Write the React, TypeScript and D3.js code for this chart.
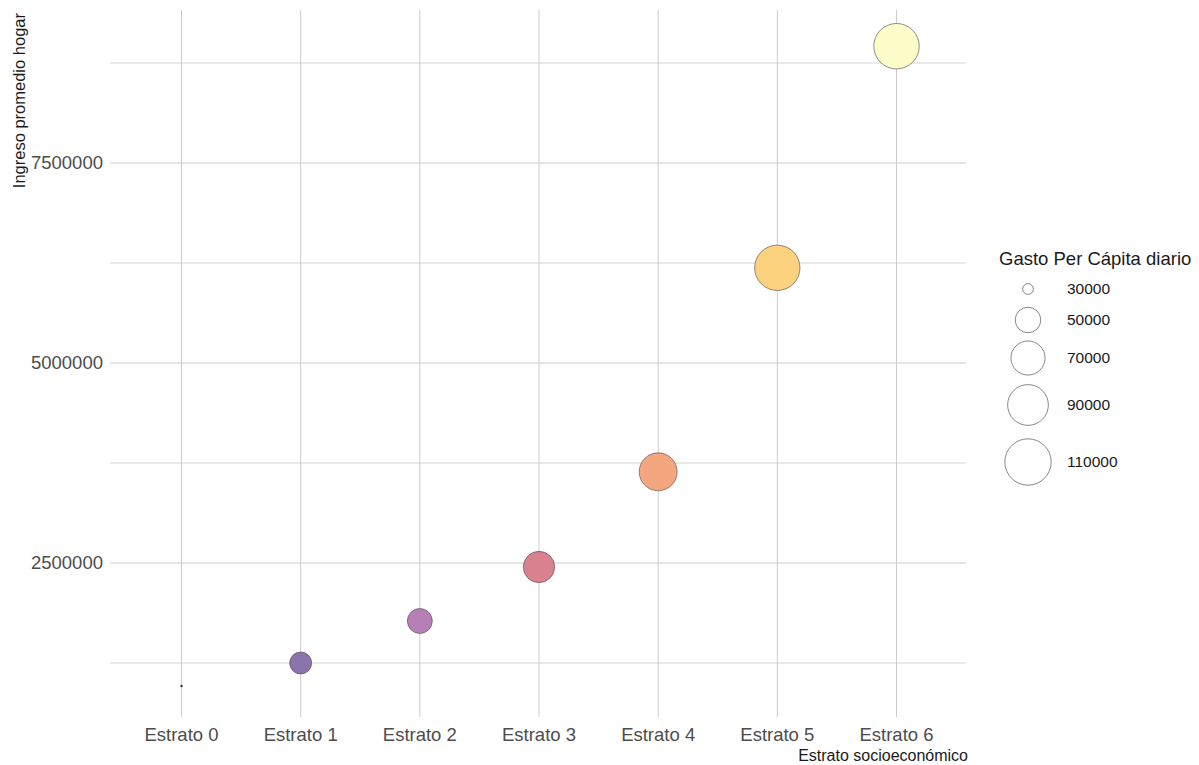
import React from "react";
import * as d3 from "d3";

const estratos = ["Estrato 0", "Estrato 1", "Estrato 2", "Estrato 3", "Estrato 4", "Estrato 5", "Estrato 6"];
const ingreso = [962000, 1250000, 1775000, 2450000, 3640000, 6190000, 8960000];
const gasto = [27000, 43400, 48800, 62900, 81100, 106000, 106500];
const fillColors = ["#333333", "#8c73ab", "#b680b6", "#d9818f", "#f4a77f", "#fdd27f", "#fcfdc8"];
const legendValues = [30000, 50000, 70000, 90000, 110000];
const yMajor = [2500000, 5000000, 7500000];
const yMinor = [1250000, 3750000, 6250000, 8750000];

const W = 1199;
const H = 765;
const panel = { left: 110, right: 968, top: 10, bottom: 717 };
const FONT = "'Liberation Sans', Arial, sans-serif";

export default function App() {
  const x = d3.scalePoint<string>().domain(estratos).range([panel.left, panel.right]).padding(0.6);
  const y = d3.scaleLinear().domain([2500000, 7500000]).range([563, 163]);
  const gMin = d3.min(gasto) as number;
  const size = d3.scaleSqrt().domain([0, 80000]).range([0, 21.6]);
  const r = (v: number) => 1.2 + size(Math.max(0, v - gMin));

  const legendY = [289, 320, 358, 405, 462];

  return (
    <svg width={W} height={H} style={{ position: "absolute", left: 0, top: 0, background: "#fff" }}>
      <rect width={W} height={H} fill="#fff" />
      {/* grid */}
      {yMinor.map((v) => (
        <line key={"mn" + v} x1={panel.left} x2={panel.right - 2} y1={y(v)} y2={y(v)} stroke="#d4d4d4" strokeWidth={1} />
      ))}
      {yMajor.map((v) => (
        <line key={"mj" + v} x1={panel.left} x2={panel.right - 2} y1={y(v)} y2={y(v)} stroke="#cccccc" strokeWidth={1} />
      ))}
      {estratos.map((e) => (
        <line key={"vx" + e} x1={x(e)} x2={x(e)} y1={panel.top} y2={panel.bottom} stroke="#cccccc" strokeWidth={1} />
      ))}
      {/* points */}
      {estratos.map((e, i) => (
        <circle
          key={"pt" + e}
          cx={x(e)}
          cy={y(ingreso[i])}
          r={r(gasto[i])}
          fill={fillColors[i]}
          stroke="#5a4a4a"
          strokeOpacity={0.8}
          strokeWidth={i === 0 ? 0 : 0.8}
        />
      ))}
      {/* y tick labels */}
      {yMajor.map((v) => (
        <text key={"yl" + v} x={103} y={y(v)} dy="0.35em" textAnchor="end" fontFamily={FONT} fontSize={18.5} fill="#4d4d4d">
          {d3.format("d")(v)}
        </text>
      ))}
      {/* x tick labels */}
      {estratos.map((e) => (
        <text key={"xl" + e} x={x(e)} y={741} textAnchor="middle" fontFamily={FONT} fontSize={18.5} fill="#4d4d4d">
          {e}
        </text>
      ))}
      {/* axis titles */}
      <text x={968} y={761} textAnchor="end" fontFamily={FONT} fontSize={16} fill="#1a1a1a">
        Estrato socioeconómico
      </text>
      <text transform="translate(25,13) rotate(-90)" textAnchor="end" fontFamily={FONT} fontSize={16.5} fill="#1a1a1a">
        Ingreso promedio hogar
      </text>
      {/* legend */}
      <text x={999} y={265} fontFamily={FONT} fontSize={18.5} fill="#1a1a1a">
        Gasto Per Cápita diario
      </text>
      {legendValues.map((v, i) => (
        <g key={"lg" + v}>
          <circle cx={1028} cy={legendY[i]} r={r(v)} fill="#fff" stroke="#555" strokeWidth={0.7} />
          <text x={1067} y={legendY[i]} dy="0.35em" fontFamily={FONT} fontSize={15.5} fill="#1a1a1a">
            {v}
          </text>
        </g>
      ))}
    </svg>
  );
}
